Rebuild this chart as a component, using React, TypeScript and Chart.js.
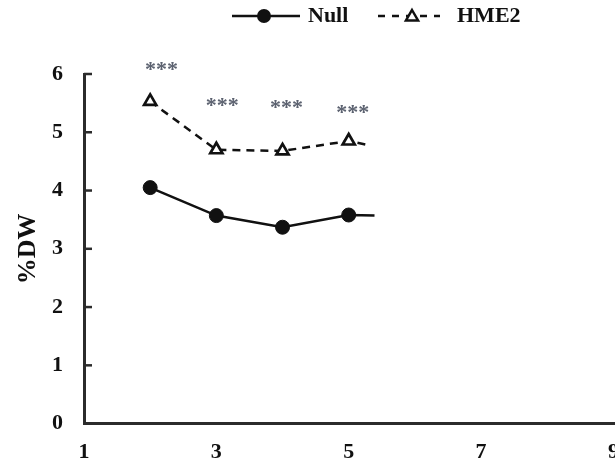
import { useEffect, useRef } from "react";
import { Chart, registerables } from "chart.js";

Chart.register(...registerables);

// ---- data ----
const seriesNames = ["Null", "HME2"];
const xValues = [2, 3, 4, 5];
const nullValues = [4.05, 3.57, 3.37, 3.58];
const hme2Values = [5.53, 4.7, 4.68, 4.85];
// the figure is cut off just after x = 5: last visible line ends
const nullTail = { x: 5.39, y: 3.57 };
const hme2Tail = { x: 5.3, y: 4.78 };
// significance marks
const starX = [2.17, 3.09, 4.06, 5.06];
const starY = [6.15, 5.54, 5.5, 5.42];
const starLabels = ["***", "***", "***", "***"];
// axes
const xTicks = [1, 3, 5, 7, 9];
const yTicks = [0, 1, 2, 3, 4, 5, 6];
const yTitle = "%DW";

const FONT = "'Liberation Serif', 'Times New Roman', serif";
const INK = "#111";
const AXIS = "#2b2b2b";

export default function App() {
  const ref = useRef<HTMLCanvasElement | null>(null);

  useEffect(() => {
    if (!ref.current) return;

    const nullData = xValues.map((x, i) => ({ x, y: nullValues[i] })).concat([nullTail]);
    const hmeData = xValues.map((x, i) => ({ x, y: hme2Values[i] })).concat([hme2Tail]);

    const extras = {
      id: "extras",
      afterDraw(chart: any) {
        const ctx = chart.ctx as CanvasRenderingContext2D;
        const xs = chart.scales.x;
        const ys = chart.scales.y;
        const area = chart.chartArea;
        ctx.save();
        // inward y ticks
        ctx.strokeStyle = AXIS;
        ctx.lineWidth = 2.5;
        yTicks.forEach((v) => {
          const py = ys.getPixelForValue(v);
          ctx.beginPath();
          ctx.moveTo(area.left, py);
          ctx.lineTo(area.left + 8, py);
          ctx.stroke();
        });
        // significance stars
        ctx.fillStyle = "#5c6270";
        ctx.font = `bold 22px ${FONT}`;
        ctx.textAlign = "center";
        ctx.textBaseline = "alphabetic";
        starLabels.forEach((s, i) => {
          ctx.fillText(s, xs.getPixelForValue(starX[i]), ys.getPixelForValue(starY[i]) + 11);
        });
        // legend
        const ly = 16;
        ctx.strokeStyle = INK;
        ctx.lineWidth = 2.5;
        ctx.setLineDash([]);
        ctx.beginPath();
        ctx.moveTo(232, ly);
        ctx.lineTo(300, ly);
        ctx.stroke();
        ctx.fillStyle = INK;
        ctx.beginPath();
        ctx.arc(264, ly, 7, 0, Math.PI * 2);
        ctx.fill();
        ctx.setLineDash([7, 7]);
        ctx.beginPath();
        ctx.moveTo(378, ly);
        ctx.lineTo(440, ly);
        ctx.stroke();
        ctx.setLineDash([]);
        const r = 7;
        const tx = 412;
        const tcy = ly + 1;
        ctx.beginPath();
        for (let k = 0; k < 3; k++) {
          const a = (k * 2 * Math.PI) / 3;
          const px = tx + Math.sin(a) * r;
          const py = tcy - Math.cos(a) * r;
          if (k === 0) ctx.moveTo(px, py);
          else ctx.lineTo(px, py);
        }
        ctx.closePath();
        ctx.fillStyle = "#fff";
        ctx.fill();
        ctx.stroke();
        ctx.fillStyle = INK;
        ctx.font = `bold 22px ${FONT}`;
        ctx.textAlign = "left";
        ctx.textBaseline = "middle";
        ctx.fillText(seriesNames[0], 308, ly);
        ctx.fillText(seriesNames[1], 457, ly);
        ctx.restore();
      },
    };

    const chart = new Chart(ref.current, {
      type: "line",
      data: {
        datasets: [
          {
            label: seriesNames[0],
            data: nullData,
            borderColor: INK,
            borderWidth: 2.5,
            pointStyle: "circle",
            pointRadius: nullData.map((_, i) => (i < xValues.length ? 7 : 0)),
            pointBackgroundColor: INK,
            pointBorderColor: INK,
            pointBorderWidth: 1,
          },
          {
            label: seriesNames[1],
            data: hmeData,
            borderColor: INK,
            borderWidth: 2.5,
            borderDash: [8, 6],
            pointStyle: "triangle",
            pointRadius: hmeData.map((_, i) => (i < xValues.length ? 7 : 0)),
            pointBackgroundColor: "#fff",
            pointBorderColor: INK,
            pointBorderWidth: 2.7,
          },
        ],
      },
      options: {
        animation: false,
        responsive: false,
        events: [],
        layout: { padding: { top: 74, left: 0, right: 0, bottom: 0 } },
        plugins: {
          legend: { display: false },
          tooltip: { enabled: false },
        },
        scales: {
          x: {
            type: "linear",
            min: 1,
            max: 9.08,
            afterBuildTicks: (s: any) => {
              s.ticks = xTicks.map((v) => ({ value: v }));
            },
            ticks: {
              font: { family: FONT, size: 22, weight: "bold" },
              color: INK,
              padding: 16,
              maxRotation: 0,
              autoSkip: false,
            },
            grid: { display: false, drawTicks: false },
            border: { display: true, color: AXIS, width: 3 },
          },
          y: {
            type: "linear",
            min: 0,
            max: 6,
            afterBuildTicks: (s: any) => {
              s.ticks = yTicks.map((v) => ({ value: v }));
            },
            ticks: {
              font: { family: FONT, size: 22, weight: "bold" },
              color: INK,
              padding: 21,
            },
            grid: { display: false, drawTicks: false },
            border: { display: true, color: AXIS, width: 3 },
            title: {
              display: true,
              text: yTitle,
              color: INK,
              font: { family: FONT, size: 26, weight: "bold", lineHeight: 1.2 },
              padding: { top: 12.4, bottom: -12.6 },
            },
          },
        },
      },
      plugins: [extras],
    });

    return () => chart.destroy();
  }, []);

  return (
    <div
      style={{
        position: "fixed",
        left: 0,
        top: 0,
        width: 615,
        height: 468,
        overflow: "hidden",
        background: "#fff",
      }}
    >
      <canvas ref={ref} width={635} height={482} style={{ display: "block" }} />
    </div>
  );
}
